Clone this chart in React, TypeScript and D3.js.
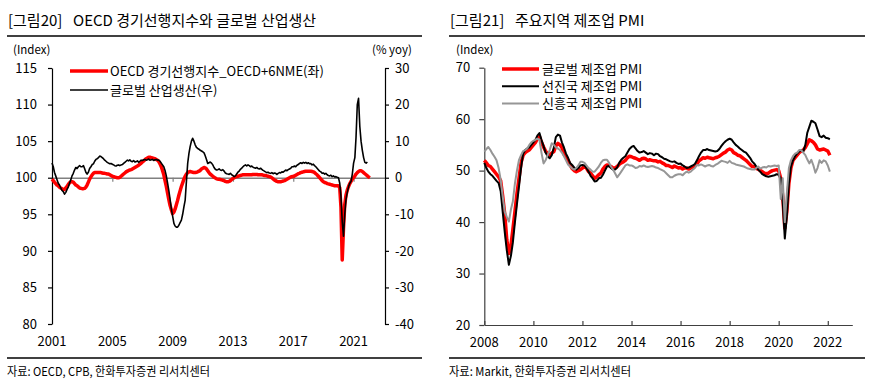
import React, { useEffect, useRef } from "react";
import * as d3 from "d3";

const FONT = "'Noto Sans CJK KR', 'Noto Sans', sans-serif";

// ---- left chart: OECD CLI (left axis) and global industrial production yoy (right axis), monthly from Jan 2001
const cliValues = [
  99.8, 99.6, 99.4, 99.2, 99.0, 98.9, 98.7, 98.6, 98.5, 98.4, 98.4, 98.6, // 2001
  98.8, 99.1, 99.3, 99.45, 99.45, 99.4, 99.2, 99.0, 98.9, 98.75, 98.6, 98.55, // 2002
  98.5, 98.5, 98.55, 98.7, 99.0, 99.4, 99.8, 100.1, 100.4, 100.6, 100.7, 100.7, // 2003
  100.7, 100.7, 100.7, 100.7, 100.65, 100.6, 100.6, 100.55, 100.5, 100.5, 100.4, 100.3, // 2004
  100.2, 100.15, 100.1, 100.05, 100.0, 100.0, 100.05, 100.2, 100.35, 100.5, 100.65, 100.8, // 2005
  100.9, 101.0, 101.05, 101.1, 101.2, 101.3, 101.4, 101.5, 101.6, 101.7, 101.85, 102.0, // 2006
  102.15, 102.3, 102.45, 102.6, 102.7, 102.8, 102.8, 102.75, 102.7, 102.65, 102.6, 102.5, // 2007
  102.4, 102.2, 101.9, 101.5, 101.0, 100.4, 99.6, 98.8, 97.9, 97.0, 96.2, 95.6, // 2008
  95.1, 95.3, 95.7, 96.3, 96.9, 97.6, 98.2, 98.8, 99.3, 99.8, 100.2, 100.5, // 2009
  100.7, 100.8, 100.85, 100.8, 100.75, 100.7, 100.7, 100.75, 100.8, 100.9, 101.0, 101.2, // 2010
  101.3, 101.4, 101.35, 101.2, 100.95, 100.7, 100.5, 100.35, 100.2, 100.05, 99.95, 99.85, // 2011
  99.8, 99.8, 99.75, 99.7, 99.65, 99.6, 99.5, 99.45, 99.45, 99.5, 99.6, 99.75, // 2012
  99.9, 100.0, 100.1, 100.15, 100.2, 100.25, 100.3, 100.35, 100.4, 100.4, 100.4, 100.4, // 2013
  100.4, 100.4, 100.4, 100.4, 100.45, 100.45, 100.45, 100.45, 100.4, 100.4, 100.4, 100.4, // 2014
  100.35, 100.3, 100.3, 100.25, 100.2, 100.15, 100.1, 100.0, 99.85, 99.7, 99.6, 99.5, // 2015
  99.45, 99.45, 99.45, 99.5, 99.55, 99.6, 99.7, 99.8, 99.9, 100.0, 100.1, 100.15, // 2016
  100.15, 100.25, 100.35, 100.45, 100.55, 100.6, 100.7, 100.75, 100.8, 100.85, 100.9, 100.9, // 2017
  100.9, 100.9, 100.9, 100.85, 100.8, 100.7, 100.55, 100.4, 100.2, 100.0, 99.8, 99.6, // 2018
  99.45, 99.35, 99.3, 99.2, 99.15, 99.1, 99.05, 99.0, 98.95, 98.9, 98.9, 98.9, // 2019
  98.9, 98.6, 96.0, 88.75, 93.0, 96.3, 97.6, 98.3, 98.8, 99.2, 99.5, 99.8, // 2020
  100.0, 100.25, 100.5, 100.7, 100.85, 100.95, 100.95, 100.85, 100.7, 100.55, 100.4, 100.25, // 2021
  100.1, 100.0, // 2022
];

const ipValues = [
  4.0, 3.0, 1.5, 0.5, -0.5, -1.5, -2.0, -2.8, -3.5, -3.8, -4.5, -4.0, // 2001
  -3.2, -2.5, -1.5, -0.6, 0.5, 1.2, 2.1, 2.8, 2.5, 3.0, 3.3, 3.0, // 2002
  3.0, 3.3, 2.5, 1.5, 1.0, 1.5, 2.5, 3.0, 3.6, 3.8, 4.5, 5.0, // 2003
  5.2, 5.5, 5.9, 5.8, 5.5, 5.2, 4.8, 4.5, 4.2, 4.0, 3.8, 3.9, // 2004
  3.7, 3.5, 3.3, 3.2, 3.4, 3.5, 3.3, 3.5, 3.6, 3.9, 4.2, 4.5, // 2005
  4.8, 4.6, 4.9, 4.5, 4.4, 4.7, 4.3, 4.4, 4.6, 4.2, 4.5, 4.8, // 2006
  4.7, 4.9, 5.0, 4.8, 4.9, 5.1, 4.8, 4.9, 5.0, 4.7, 4.9, 5.0, // 2007
  4.8, 4.8, 4.5, 4.0, 3.5, 3.0, 2.0, 0.5, -1.5, -3.5, -6.0, -8.5, // 2008
  -10.5, -12.5, -13.2, -13.5, -13.5, -13.0, -12.3, -11.6, -10.0, -8.0, -6.1, -1.0, // 2009
  4.0, 6.7, 8.5, 10.0, 10.8, 10.0, 9.0, 8.3, 8.0, 7.8, 7.5, 7.3, // 2010
  7.1, 6.8, 6.0, 5.0, 3.9, 4.1, 4.3, 4.0, 3.5, 2.8, 2.3, 2.1, // 2011
  2.2, 2.4, 2.1, 2.0, 2.2, 1.8, 1.3, 1.1, 1.0, 0.9, 1.2, 0.8, // 2012
  0.6, 0.3, 0.5, 1.0, 1.5, 1.8, 2.3, 2.6, 3.0, 3.3, 3.5, 3.2, // 2013
  3.5, 3.3, 3.0, 3.2, 2.9, 2.7, 2.6, 2.8, 2.5, 2.4, 2.6, 2.3, // 2014
  2.0, 1.8, 1.6, 1.4, 1.5, 1.3, 1.2, 1.4, 1.1, 1.3, 1.2, 0.9, // 2015
  1.2, 1.4, 1.3, 1.6, 1.5, 1.8, 2.1, 1.9, 2.2, 2.4, 2.6, 3.0, // 2016
  3.0, 3.2, 3.0, 3.4, 3.6, 3.9, 4.1, 3.9, 4.2, 4.0, 4.2, 3.9, // 2017
  4.1, 3.8, 3.9, 3.5, 3.7, 3.3, 3.0, 2.6, 2.2, 1.8, 1.6, 1.2, // 2018
  1.3, 1.0, 1.2, 0.8, 0.6, 0.5, 0.7, 0.3, 0.5, 0.2, 0.3, 0.1, // 2019
  0.0, -1.5, -5.0, -12.0, -16.0, -10.0, -6.0, -4.0, -2.5, -1.5, -1.0, 1.0, // 2020
  4.0, 5.5, 11.0, 20.0, 21.7, 14.0, 10.0, 7.5, 5.5, 4.2, 4.0, 4.3, // 2021
];

const leftYears = [2001, 2005, 2009, 2013, 2017, 2021];
const leftTicks = [80, 85, 90, 95, 100, 105, 110, 115];
const rightTicks = [-40, -30, -20, -10, 0, 10, 20, 30];

// ---- right chart: manufacturing PMI, monthly from Jan 2008
const pmiGlobal = [
  52.0, 51.5, 51.0, 50.8, 50.3, 49.8, 49.3, 48.8, 48.0, 45.0, 41.5, 36.5, // 2008
  33.9, 35.5, 38.5, 42.0, 45.5, 48.5, 51.5, 53.0, 53.5, 53.8, 54.0, 54.5, // 2009
  55.0, 55.5, 56.2, 56.6, 55.5, 54.6, 53.8, 53.3, 53.0, 53.4, 53.7, 54.8, // 2010
  55.3, 55.0, 54.5, 53.2, 52.7, 52.0, 51.1, 50.4, 50.0, 49.8, 50.0, 50.2, // 2011
  50.5, 50.8, 50.5, 49.8, 49.5, 49.0, 48.5, 48.8, 49.2, 49.5, 50.3, 50.8, // 2012
  51.1, 51.0, 50.8, 50.5, 50.5, 50.8, 51.2, 51.5, 51.7, 52.0, 52.5, 52.8, // 2013
  52.7, 52.5, 52.4, 52.2, 52.0, 52.3, 52.4, 52.3, 52.0, 52.1, 52.0, 51.9, // 2014
  51.9, 51.7, 51.8, 51.5, 51.3, 51.0, 51.0, 50.8, 50.6, 50.9, 50.7, 50.5, // 2015
  50.6, 50.3, 50.5, 50.5, 50.3, 50.5, 50.7, 50.9, 51.3, 51.9, 52.2, 52.5, // 2016
  52.4, 52.6, 52.5, 52.4, 52.3, 52.5, 52.6, 52.8, 53.1, 53.4, 53.6, 54.0, // 2017
  54.2, 54.0, 53.5, 53.3, 53.0, 52.9, 52.6, 52.3, 52.0, 51.6, 51.2, 50.8, // 2018
  50.8, 50.4, 50.3, 50.0, 49.8, 49.5, 49.4, 49.5, 49.8, 50.0, 50.1, 50.2, // 2019
  50.0, 48.5, 45.0, 38.8, 42.0, 47.5, 50.5, 52.0, 52.5, 53.0, 53.5, 53.8, // 2020
  54.0, 54.5, 55.2, 56.0, 55.8, 55.5, 55.0, 54.2, 54.0, 54.1, 54.2, 54.0, // 2021
  53.8, 53.0, // 2022
];

const pmiAdvanced = [
  51.5, 50.5, 49.8, 49.3, 49.0, 48.5, 48.0, 47.6, 46.0, 42.0, 38.0, 34.5, // 2008
  31.7, 33.5, 36.0, 40.0, 43.5, 47.0, 50.5, 53.3, 54.0, 54.3, 54.5, 55.0, // 2009
  55.5, 56.0, 56.8, 57.3, 56.0, 54.8, 53.5, 52.8, 52.4, 53.0, 54.5, 56.5, // 2010
  57.0, 56.8, 55.5, 54.5, 53.3, 52.5, 51.5, 51.1, 50.6, 50.2, 50.5, 51.0, // 2011
  51.1, 51.0, 50.5, 49.8, 49.0, 48.5, 47.9, 48.0, 48.5, 48.6, 49.2, 50.0, // 2012
  50.8, 50.9, 50.5, 50.2, 50.2, 50.6, 51.5, 52.1, 52.5, 52.8, 53.5, 54.2, // 2013
  54.6, 54.8, 54.3, 53.8, 53.5, 53.6, 53.8, 53.5, 53.2, 53.4, 53.3, 53.0, // 2014
  53.3, 53.2, 52.8, 52.6, 52.3, 52.2, 52.0, 51.8, 51.7, 51.8, 51.5, 51.3, // 2015
  51.4, 51.0, 50.8, 50.5, 50.6, 50.8, 51.0, 51.3, 52.0, 52.8, 53.5, 54.0, // 2016
  54.0, 54.2, 54.0, 53.9, 53.8, 53.7, 53.8, 54.2, 54.8, 55.3, 55.7, 56.0, // 2017
  56.2, 56.0, 55.5, 55.0, 54.7, 54.3, 54.0, 53.7, 53.5, 53.0, 52.5, 51.8, // 2018
  51.4, 50.8, 50.2, 49.8, 49.3, 49.1, 48.9, 48.8, 48.9, 49.0, 49.1, 49.3, // 2019
  49.2, 48.5, 44.0, 36.8, 41.0, 47.5, 50.8, 52.0, 52.8, 53.3, 53.7, 54.0, // 2020
  53.7, 55.0, 57.3, 58.5, 59.7, 59.5, 59.2, 58.0, 56.7, 56.5, 56.8, 56.4, // 2021
  56.3, 56.1, // 2022
];

const pmiEmerging = [
  53.7, 54.2, 54.6, 54.0, 53.3, 52.7, 52.0, 50.5, 48.2, 45.0, 42.0, 41.0, // 2008
  40.1, 42.5, 44.0, 47.5, 50.0, 52.1, 53.0, 53.8, 54.0, 54.3, 55.0, 55.5, // 2009
  55.8, 56.0, 56.2, 56.0, 53.5, 51.4, 52.0, 53.0, 54.0, 55.3, 55.0, 54.5, // 2010
  54.3, 54.0, 53.5, 52.8, 52.0, 51.2, 50.8, 50.4, 50.2, 50.5, 51.0, 51.7, // 2011
  51.7, 51.5, 51.0, 50.5, 50.2, 49.8, 49.8, 50.3, 50.8, 51.5, 52.0, 52.1, // 2012
  52.1, 51.5, 50.8, 50.2, 49.5, 48.7, 49.2, 49.8, 50.4, 51.0, 51.2, 51.0, // 2013
  51.0, 50.8, 50.5, 50.6, 50.9, 50.8, 51.0, 50.8, 50.7, 50.8, 50.9, 50.8, // 2014
  50.6, 50.5, 50.3, 50.1, 49.9, 49.5, 49.1, 48.7, 48.7, 49.0, 49.2, 49.3, // 2015
  49.3, 49.1, 49.5, 49.8, 49.6, 49.8, 50.2, 50.5, 51.1, 51.0, 51.2, 51.0, // 2016
  50.8, 51.0, 51.1, 50.9, 50.8, 51.1, 51.3, 51.6, 51.9, 51.8, 51.7, 51.5, // 2017
  51.9, 51.5, 51.4, 51.2, 51.1, 51.0, 50.9, 50.8, 50.6, 50.4, 50.3, 50.2, // 2018
  50.2, 50.5, 50.8, 50.4, 50.6, 50.7, 50.6, 50.9, 50.8, 50.9, 51.0, 50.9, // 2019
  51.0, 44.5, 48.5, 40.0, 45.5, 50.5, 52.0, 52.8, 53.3, 53.5, 54.0, 54.0, // 2020
  53.5, 53.0, 52.2, 51.4, 52.1, 51.0, 49.6, 50.5, 52.0, 51.5, 52.0, 51.8, // 2021
  51.0, 49.8, // 2022
];

const pmiYears = [2008, 2010, 2012, 2014, 2016, 2018, 2020, 2022];
const pmiTicks = [20, 30, 40, 50, 60, 70];

// month i counted from a start year
function monthDate(year: number, i: number) {
  return new Date(year, i, 1);
}

// plain hyphen for negatives, like the source chart
const plain = (d: any) => String(d);

function header(g: any, x0: number, x1: number, tag: string, title: string, titleX: number, source: string, sourceW: number) {
  g.append("text").attr("x", x0 + 1).attr("y", 26).attr("font-size", 15).attr("fill", "#000").text(tag);
  g.append("text").attr("x", titleX).attr("y", 26).attr("font-size", 15).attr("fill", "#000").text(title);
  g.append("line").attr("x1", x0).attr("x2", x1).attr("y1", 36).attr("y2", 36)
    .attr("stroke", "#000").attr("stroke-width", 1.5);
  g.append("line").attr("x1", x0).attr("x2", x1).attr("y1", 358).attr("y2", 358)
    .attr("stroke", "#000").attr("stroke-width", 1.5);
  g.append("text").attr("x", x0).attr("y", 376).attr("font-size", 12).attr("fill", "#000")
    .attr("textLength", sourceW).attr("lengthAdjust", "spacingAndGlyphs").text(source);
}

function styleAxis(a: any, color: string) {
  a.attr("font-family", FONT).attr("font-size", 13);
  a.select(".domain").attr("stroke", color).attr("stroke-width", 1.2);
  a.selectAll(".tick line").attr("stroke", color).attr("stroke-width", 1.2);
  a.selectAll(".tick text").attr("fill", "#000");
}

function drawLeft(g: any) {
  header(g, 7, 422, "[그림20]", "OECD 경기선행지수와 글로벌 산업생산", 73,
    "자료: OECD, CPB, 한화투자증권 리서치센터", 203);

  var x = d3.scaleTime().domain([new Date(2001, 0, 1), new Date(2023, 1, 1)]).range([52, 385]);
  var yL = d3.scaleLinear().domain([80, 115]).range([324, 68]);
  var yR = d3.scaleLinear().domain([-40, 30]).range([324, 68]);

  g.append("text").attr("x", 13).attr("y", 54).attr("font-size", 11.5).text("(Index)");
  g.append("text").attr("x", 372).attr("y", 54).attr("font-size", 11.5).text("(% yoy)");

  // 100 / 0 base line doubles as the x axis
  var base = g.append("g").attr("transform", "translate(0," + yL(100) + ")")
    .call(d3.axisBottom(x).tickValues(leftYears.map(y => new Date(y, 0, 1)))
      .tickSize(4).tickSizeOuter(0).tickFormat(() => ""));
  base.select(".domain").attr("stroke", "#808080").attr("stroke-width", 1.5);
  base.selectAll(".tick line").attr("stroke", "#808080").attr("stroke-width", 1.2);

  var axL = g.append("g").attr("transform", "translate(52,0)")
    .call(d3.axisLeft(yL).tickValues(leftTicks).tickSize(4).tickSizeOuter(0).tickPadding(11).tickFormat(plain));
  styleAxis(axL, "#000");
  var axR = g.append("g").attr("transform", "translate(385,0)")
    .call(d3.axisRight(yR).tickValues(rightTicks).tickSize(4).tickSizeOuter(0).tickPadding(6).tickFormat(plain));
  styleAxis(axR, "#000");

  g.selectAll(".yearLabel").data(leftYears).enter().append("text")
    .attr("x", (d: number) => x(new Date(d, 0, 1)))
    .attr("y", 346).attr("font-size", 13).attr("text-anchor", "middle").text((d: number) => d);

  var cliLine = d3.line<number>().x((d, i) => x(monthDate(2001, i))).y(d => yL(d));
  var ipLine = d3.line<number>().x((d, i) => x(monthDate(2001, i))).y(d => yR(d));

  g.append("path").attr("d", cliLine(cliValues)).attr("fill", "none")
    .attr("stroke", "#ff0000").attr("stroke-width", 3.5).attr("stroke-linejoin", "round");
  g.append("path").attr("d", ipLine(ipValues)).attr("fill", "none")
    .attr("stroke", "#000").attr("stroke-width", 1.6).attr("stroke-linejoin", "round");

  // legend
  var legend = [
    { label: "OECD 경기선행지수_OECD+6NME(좌)", color: "#ff0000", w: 3.5, y: 71 },
    { label: "글로벌 산업생산(우)", color: "#000", w: 1.6, y: 90 },
  ];
  legend.forEach(l => {
    g.append("line").attr("x1", 70).attr("x2", 108).attr("y1", l.y).attr("y2", l.y)
      .attr("stroke", l.color).attr("stroke-width", l.w);
    g.append("text").attr("x", 110).attr("y", l.y).attr("dy", "0.36em").attr("font-size", 13).text(l.label);
  });
}

function drawRight(g: any) {
  header(g, 449, 865, "[그림21]", "주요지역 제조업 PMI", 515,
    "자료: Markit, 한화투자증권 리서치센터", 182);

  var x = d3.scaleTime().domain([new Date(2008, 0, 1), new Date(2023, 0, 1)]).range([484.3, 852.3]);
  var y = d3.scaleLinear().domain([20, 70]).range([325, 67.7]);

  g.append("text").attr("x", 456).attr("y", 54).attr("font-size", 11.5).text("(Index)");

  var axY = g.append("g").attr("transform", "translate(484.3,0)")
    .call(d3.axisLeft(y).tickValues(pmiTicks).tickSize(5).tickSizeOuter(0).tickPadding(9).tickFormat(plain));
  styleAxis(axY, "#404040");

  var axX = g.append("g").attr("transform", "translate(0,325)")
    .call(d3.axisBottom(x).tickValues(pmiYears.map(v => new Date(v, 0, 1)))
      .tickSize(-4).tickSizeOuter(0).tickFormat(() => ""));
  styleAxis(axX, "#404040");

  g.selectAll(".pmiYear").data(pmiYears).enter().append("text")
    .attr("x", (d: number) => x(new Date(d, 0, 1)))
    .attr("y", 347).attr("font-size", 13).attr("text-anchor", "middle").text((d: number) => d);

  var line = d3.line<number>().x((d, i) => x(monthDate(2008, i))).y(d => y(d));
  var series = [
    { label: "글로벌 제조업 PMI", values: pmiGlobal, color: "#ff0000", w: 3.5 },
    { label: "선진국 제조업 PMI", values: pmiAdvanced, color: "#000", w: 2 },
    { label: "신흥국 제조업 PMI", values: pmiEmerging, color: "#969696", w: 2 },
  ];
  series.forEach(s => {
    g.append("path").attr("d", line(s.values)).attr("fill", "none")
      .attr("stroke", s.color).attr("stroke-width", s.w).attr("stroke-linejoin", "round");
  });

  series.forEach((s, i) => {
    var ly = 69 + i * 17.3;
    g.append("line").attr("x1", 502).attr("x2", 539).attr("y1", ly).attr("y2", ly)
      .attr("stroke", s.color).attr("stroke-width", s.w);
    g.append("text").attr("x", 542).attr("y", ly).attr("dy", "0.36em").attr("font-size", 13).text(s.label);
  });
}

export default function App() {
  const ref = useRef<SVGSVGElement>(null);

  useEffect(() => {
    var svg = d3.select(ref.current);
    svg.selectAll("*").remove();
    drawLeft(svg.append("g"));
    drawRight(svg.append("g"));
  }, []);

  return (
    <svg
      ref={ref}
      width={872}
      height={385}
      fontFamily={FONT}
      style={{ position: "absolute", left: 0, top: 0, background: "#fff" }}
    />
  );
}
